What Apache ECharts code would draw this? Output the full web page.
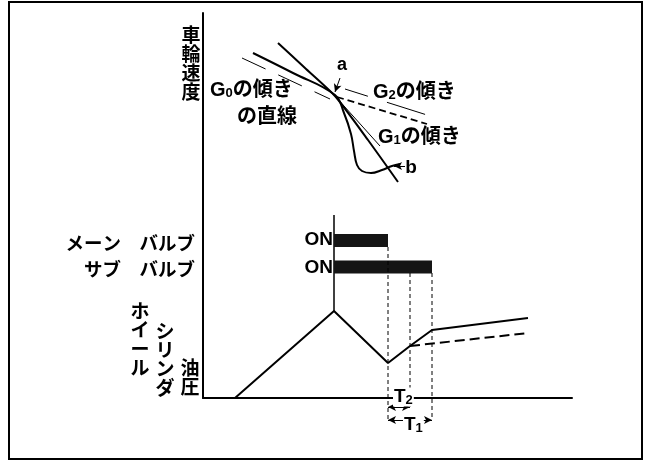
<!DOCTYPE html>
<html>
<head>
<meta charset="utf-8">
<script src="https://cdn.jsdelivr.net/npm/echarts@6/dist/echarts.min.js"></script>
<style>
    html, body { margin: 0; background: #fff; }
    #chart { width: 650px; height: 460px; }
</style>
</head>
<body>
<div id="chart"></div>
<script>
// time runs along x, 0 = vertical axis; both panels share it

// top panel: wheel speed
const steepX = [75, 102, 132, 165, 195]
const steepY = [157, 132, 104, 60, 18]
const speedX = [50, 90, 132, 141, 148, 151, 154, 159, 168, 179, 189, 197]
const speedY = [147, 127, 105, 87, 66, 49, 35, 29, 27, 30, 34, 36]
const g0X = [39, 127]
const g0Y = [142, 101]
const g1X = [132, 177]
const g1Y = [104, 54]
const g2X = [142, 224]
const g2Y = [111, 85]
const g2dashX = [134, 224]
const g2dashY = [103, 76]

// bottom panel: wheel cylinder pressure
const pressX = [32, 131, 185, 207, 229, 325]
const pressY = [0, 87, 35, 52, 68, 80]
const pressDashX = [207, 325]
const pressDashY = [52, 65]

// valves ON (start, end) and their rows
const mainOn = [131, 185]
const subOn = [131, 229]
const mainRow = 157.5
const subRow = 131
const onTop = 183

// guide times and the T2 / T1 spans
const guideTimes = [185, 207, 229]
const guideTops = [151, 125, 125]
const guideBottoms = [-22, -9, -22]
const t2 = [185, 207]
const t1 = [185, 229]

const pts = (xs, ys) => xs.map((x, i) => [x, ys[i]])
const font = '"Liberation Sans", "Noto Sans CJK JP", sans-serif'

function line(grid, data, width, type, extra) {
    return Object.assign({
        type: 'line',
        xAxisIndex: grid,
        yAxisIndex: grid,
        data: data,
        symbol: 'none',
        silent: true,
        lineStyle: { color: '#000', width: width, type: type || 'solid' }
    }, extra || {})
}

function arrows(list, both) {
    return {
        silent: true,
        symbol: [both ? 'arrow' : 'none', 'arrow'],
        symbolSize: [6, 8],
        label: { show: false },
        lineStyle: { color: '#000', width: 1, type: 'solid' },
        emphasis: { disabled: true },
        data: list.map(p => [{ coord: p[0] }, { coord: p[1] }])
    }
}

function text(t, x, y, align, size, extra) {
    return {
        type: 'text',
        z: 100,
        style: Object.assign({
            text: t, x: x, y: y,
            fontSize: size, fontWeight: 'bold', fontFamily: font,
            fill: '#000', align: align, verticalAlign: 'middle'
        }, extra || {})
    }
}

function vtext(t, x, top) {
    return text(t.split('').join('\n'), x, top, 'center', 19, { verticalAlign: 'top', lineHeight: 19 })
}

const sub = { s: { fontSize: 13, fontWeight: 'bold', fontFamily: font, verticalAlign: 'bottom' } }

const hidden = { show: false }
const axisBlack = { show: true, onZero: false, lineStyle: { color: '#000', width: 2 } }

const series = [
    line(0, pts(steepX, steepY), 2, 'solid', { smooth: 0.2 }),
    line(0, pts(speedX, speedY), 2, 'solid', { smooth: 0.4 }),
    line(0, pts(g0X, g0Y), 1, [26, 14]),
    line(0, pts(g1X, g1Y), 1, 'solid', {
        markLine: arrows([[[137, 122], [132, 108]], [[202, 34], [191, 34]]], false)
    }),
    line(0, pts(g2X, g2Y), 1, [24, 20, 40]),
    line(0, pts(g2dashX, g2dashY), 1.8, [7, 4]),

    line(1, pts(pressX, pressY), 2),
    line(1, pts(pressDashX, pressDashY), 2, [10, 5]),
    line(1, [[mainOn[0], onTop], [mainOn[0], pressY[1]]], 1.5),
    line(1, [[mainOn[0], mainRow], [mainOn[1], mainRow]], 13, 'solid', { lineStyle: { color: '#151515', width: 13 } }),
    line(1, [[subOn[0], subRow], [subOn[1], subRow]], 13, 'solid', { lineStyle: { color: '#151515', width: 13 } })
]
guideTimes.forEach((t, i) => {
    series.push(line(1, [[t, guideTops[i]], [t, guideBottoms[i]]], 1, [4, 3], { clip: false }))
})
series.push(line(2, [], 1, 'solid', {
    clip: false,
    markLine: arrows([[[t2[0], -9], [t2[1], -9]], [[t1[0], -22], [t1[1], -22]]], true)
}))

const chart = echarts.init(document.getElementById('chart'))
chart.setOption({
    animation: false,
    backgroundColor: '#fff',
    grid: [
        { left: 203, top: 13, width: 369, height: 187 },
        { left: 203, top: 200, width: 369, height: 198 },
        { left: 203, top: 398, width: 369, height: 40 }
    ],
    xAxis: [
        { gridIndex: 0, type: 'value', min: 0, max: 369, show: false },
        { gridIndex: 1, type: 'value', min: 0, max: 369, axisLine: axisBlack, axisTick: hidden, axisLabel: hidden, splitLine: hidden },
        { gridIndex: 2, type: 'value', min: 0, max: 369, show: false }
    ],
    yAxis: [
        { gridIndex: 0, type: 'value', min: 0, max: 187, axisLine: axisBlack, axisTick: hidden, axisLabel: hidden, splitLine: hidden },
        { gridIndex: 1, type: 'value', min: 0, max: 198, axisLine: axisBlack, axisTick: hidden, axisLabel: hidden, splitLine: hidden },
        { gridIndex: 2, type: 'value', min: -40, max: 0, show: false }
    ],
    series: series,
    graphic: [
        { type: 'rect', z: 100, shape: { x: 9, y: 2, width: 633, height: 457 }, style: { fill: 'none', stroke: '#000', lineWidth: 2 } },
        vtext('車輪速度', 191, 27),
        text('G{s|0}の傾き', 210, 90, 'left', 20, { rich: sub }),
        text('の直線', 237, 117, 'left', 20),
        text('G{s|2}の傾き', 373, 92, 'left', 20, { rich: sub }),
        text('G{s|1}の傾き', 378, 137, 'left', 20, { rich: sub }),
        text('a', 342, 65, 'center', 18),
        text('b', 411, 168, 'center', 19),
        text('メーン　バルブ', 195, 245, 'right', 18.5),
        text('サブ　バルブ', 195, 271, 'right', 18.5),
        text('ON', 333, 240, 'right', 19),
        text('ON', 333, 268, 'right', 19),
        vtext('ホイール', 140, 303),
        vtext('シリンダ', 165, 323),
        vtext('油圧', 190, 360),
        text('T{s|2}', 393, 397, 'left', 19, { rich: sub, backgroundColor: '#fff', padding: [0, 1] }),
        text('T{s|1}', 403, 425, 'left', 19, { rich: sub, backgroundColor: '#fff', padding: [0, 1] })
    ]
})
</script>
</body>
</html>
